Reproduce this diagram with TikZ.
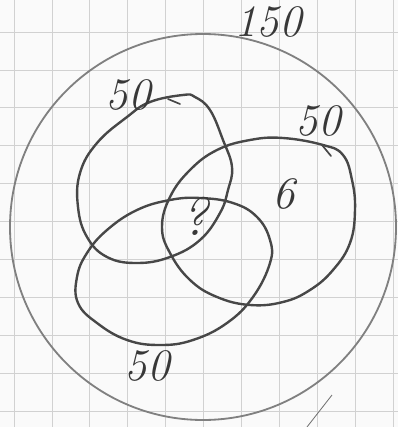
\documentclass[tikz,border=0pt]{standalone}
\usepackage{tikz}
\usetikzlibrary{positioning, calc}

\begin{document}
\begin{tikzpicture}[x=0.025cm, y=-0.025cm,
    pencil/.style={draw=black!72, line width=1.7pt, line cap=round, line join=round},
    faint/.style={draw=black!50, line width=1.3pt},
    hand/.style={font=\fontsize{32}{34}\selectfont\itshape, text=black!78, inner sep=0pt}]
    \useasboundingbox (0,0) rectangle (398,427);
    \fill[black!2] (0,0) rectangle (398,427);

    % Squared paper
    \foreach \k in {0,...,10} {
        \draw[black!18, line width=0.5pt] (14+37.9*\k,0) -- (14+37.9*\k,427);
        \draw[black!18, line width=0.5pt] (0,32+37.9*\k) -- (398,32+37.9*\k);
    }

    % Whole set
    \draw[faint] (203,227) circle[radius=193];
    \node[hand] (total) at (268,22) {150};

    % Upper left set
    \draw[pencil] plot[smooth cycle, tension=0.7] coordinates {
        (183,95) (150,102) (127,117) (97,143) (80,173) (78,207) (87,237) (107,257)
        (137,263) (170,257) (200,240) (220,213) (228,190) (232,167) (223,140) (210,110) (195,97)};
    \draw[pencil, line width=1.2pt] (168,99) -- (180,104);
    \node[hand] (setA) at (128,95) {50};

    % Right set
    \draw[pencil] plot[smooth cycle, tension=0.7] coordinates {
        (323,145) (283,138) (250,140) (217,150) (190,170) (170,197) (162,227) (170,253)
        (190,280) (217,297) (250,305) (283,302) (310,290) (333,270) (350,243) (355,210)
        (352,180) (343,155)};
    \draw[pencil, line width=1.2pt] (322,145) -- (331,156);
    \node[hand] (setB) at (318,121) {50};

    % Lower set
    \draw[pencil] plot[smooth cycle, tension=0.7] coordinates {
        (200,198) (170,200) (137,210) (107,230) (87,253) (77,277) (78,303) (97,323)
        (127,340) (160,345) (193,340) (227,323) (253,297) (270,263) (270,240) (257,217)
        (233,203)};
    \node[hand] (setC) at (147,366) {50};

    % Regions
    \node[hand, font=\fontsize{38}{40}\selectfont\itshape] (common) at (195,216) {?};
    \node[hand, font=\fontsize{32}{34}\selectfont\itshape] (partB) at (284,194) {6};

    % Stray stroke
    \draw[black!55, line width=0.6pt] (307,427) -- (332,395);
\end{tikzpicture}
\end{document}
